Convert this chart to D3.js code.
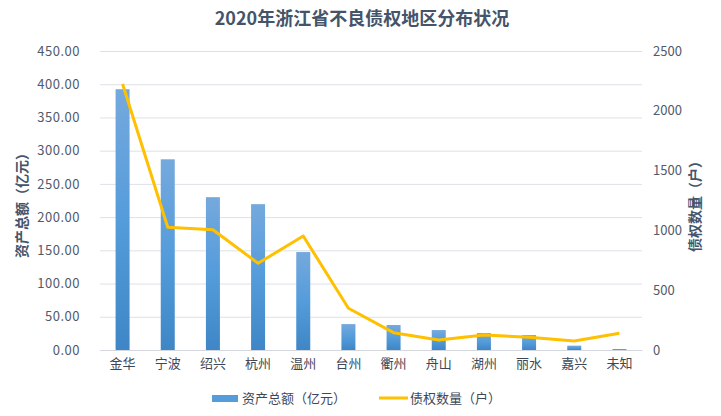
<!DOCTYPE html>
<html>
<head>
<meta charset="utf-8">
<script src="https://cdn.jsdelivr.net/npm/d3@7"></script>
<style>
  body { margin: 0; background: #fff; }
  text { font-family: "Noto Sans CJK SC", "Noto Sans", sans-serif; }
</style>
</head>
<body>
<div id="chart-area"></div>
<script>
var regions = ["金华", "宁波", "绍兴", "杭州", "温州", "台州", "衢州", "舟山", "湖州", "丽水", "嘉兴", "未知"];
var assets = [392.5, 287, 230, 219.5, 147.4, 39, 37.6, 30, 25.5, 22.5, 6.5, 1.5];
var counts = [2224, 1026, 1006, 725, 953, 349, 145, 84, 125, 106, 75, 140];
var leftTicks = [0, 50, 100, 150, 200, 250, 300, 350, 400, 450];
var rightTicks = [0, 500, 1000, 1500, 2000, 2500];

var W = 721, H = 416;
var margin = { top: 51, right: 79, bottom: 66, left: 100 };
var width = W - margin.left - margin.right;
var height = H - margin.top - margin.bottom;

var svg = d3.select("#chart-area")
    .append("svg")
    .attr("width", W)
    .attr("height", H);

var gradient = svg.append("defs")
    .append("linearGradient")
    .attr("id", "bar-gradient")
    .attr("x1", "0%").attr("y1", "0%")
    .attr("x2", "0%").attr("y2", "100%");
gradient.append("stop").attr("offset", "0%").attr("stop-color", "#75a9dd");
gradient.append("stop").attr("offset", "50%").attr("stop-color", "#559cdb");
gradient.append("stop").attr("offset", "100%").attr("stop-color", "#3f86c6");

var g = svg.append("g")
    .attr("transform", `translate(${margin.left}, ${margin.top})`);

var x = d3.scaleBand()
    .domain(regions)
    .range([0, width]);

var yL = d3.scaleLinear().domain([0, 450]).range([height, 0]);
var yR = d3.scaleLinear().domain([0, 2500]).range([height, 0]);

// grid
g.append("g")
    .attr("class", "grid")
    .call(d3.axisLeft(yL).tickValues(leftTicks).tickSize(-width).tickFormat(""))
    .call(s => s.select(".domain").remove())
    .call(s => s.selectAll("line").attr("stroke", "#dde1e6").attr("stroke-width", 1));

// left axis
g.append("g")
    .call(d3.axisLeft(yL).tickValues(leftTicks).tickSize(0).tickPadding(20).tickFormat(d3.format(".2f")))
    .call(s => s.select(".domain").remove())
    .call(s => s.selectAll("text")
        .attr("font-size", "13px")
        .attr("fill", "#515a6b")
        .style("letter-spacing", "0.5px"));

// right axis
g.append("g")
    .attr("transform", `translate(${width}, 0)`)
    .call(d3.axisRight(yR).tickValues(rightTicks).tickSize(0).tickPadding(11).tickFormat(d3.format("d")))
    .call(s => s.select(".domain").remove())
    .call(s => s.selectAll("text")
        .attr("font-size", "13px")
        .attr("fill", "#515a6b"));

// bottom axis
g.append("g")
    .attr("transform", `translate(0, ${height})`)
    .call(d3.axisBottom(x).tickSize(0).tickPadding(9))
    .call(s => s.select(".domain").attr("stroke", "#d4d8de"))
    .call(s => s.selectAll("text")
        .attr("font-size", "13px")
        .attr("fill", "#3e4758"));

// bars
var barW = 14;
g.selectAll("rect.bar")
    .data(regions)
    .enter()
    .append("rect")
    .attr("class", "bar")
    .attr("x", (d) => x(d) + x.bandwidth() / 2 - barW / 2)
    .attr("y", (d, i) => yL(assets[i]))
    .attr("width", barW)
    .attr("height", (d, i) => height - yL(assets[i]))
    .attr("fill", "url(#bar-gradient)");

// line
var line = d3.line()
    .x((d) => x(d) + x.bandwidth() / 2)
    .y((d, i) => yR(counts[i]));

g.append("path")
    .datum(regions)
    .attr("fill", "none")
    .attr("stroke", "#ffc000")
    .attr("stroke-width", 3)
    .attr("stroke-linejoin", "round")
    .attr("d", line);

// title
svg.append("text")
    .attr("x", 362)
    .attr("y", 25)
    .attr("text-anchor", "middle")
    .attr("font-size", "18px")
    .attr("font-weight", "bold")
    .attr("fill", "#44546a")
    .text("2020年浙江省不良债权地区分布状况");

// axis titles
svg.append("text")
    .attr("transform", "translate(27, 202) rotate(-90)")
    .attr("text-anchor", "middle")
    .attr("font-size", "14px")
    .attr("font-weight", "bold")
    .attr("fill", "#44546a")
    .text("资产总额（亿元）");

svg.append("text")
    .attr("transform", "translate(700, 203) rotate(-90)")
    .attr("text-anchor", "middle")
    .attr("font-size", "14px")
    .attr("font-weight", "bold")
    .attr("fill", "#44546a")
    .text("债权数量（户）");

// legend
var legend = svg.append("g").attr("transform", "translate(0, 398)");
legend.append("rect")
    .attr("x", 212).attr("y", -3)
    .attr("width", 26).attr("height", 7)
    .attr("fill", "#559cdb");
legend.append("text")
    .attr("x", 242).attr("y", 5)
    .attr("font-size", "13px")
    .attr("fill", "#3e4758")
    .text("资产总额（亿元）");
legend.append("line")
    .attr("x1", 379).attr("x2", 408)
    .attr("y1", 0).attr("y2", 0)
    .attr("stroke", "#ffc000")
    .attr("stroke-width", 3);
legend.append("text")
    .attr("x", 410).attr("y", 5)
    .attr("font-size", "13px")
    .attr("fill", "#3e4758")
    .text("债权数量（户）");
</script>
</body>
</html>
